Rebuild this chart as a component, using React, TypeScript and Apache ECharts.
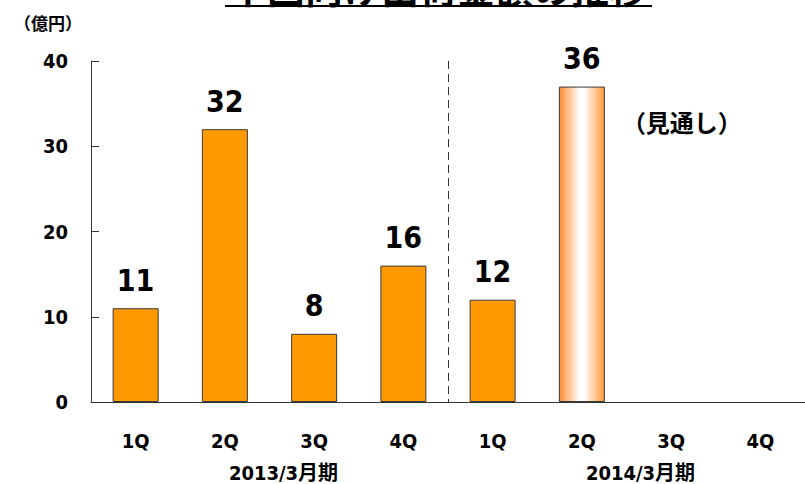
import React, { useEffect, useRef } from "react";
import * as echarts from "echarts";

const quarters = ["1Q", "2Q", "3Q", "4Q", "1Q", "2Q", "3Q", "4Q"];
const periods = ["2013/3月期", "2014/3月期"];
const barValues: (number | null)[] = [11, 32, 8, 16, 12, 37, null, null];
const barLabels = ["11", "32", "8", "16", "12", "36", "", ""];
const forecastIndex = 5;
const yTicks = [0, 10, 20, 30, 40];
const titleText = "中国向け出荷金額の推移";
const unitText = "（億円）";
const forecastText = "（見通し）";

const NUM_FONT = '"DejaVu Sans Condensed", "Liberation Sans Narrow", "Noto Sans CJK JP", sans-serif';
const CJK_FONT = '"Noto Sans CJK JP", "Noto Sans", sans-serif';

export default function App() {
  const ref = useRef<HTMLDivElement>(null);
  useEffect(() => {
    if (!ref.current) return;
    const chart = echarts.init(ref.current, null, { renderer: "svg" });
    const gradient = new echarts.graphic.LinearGradient(0, 0, 1, 0, [
      { offset: 0, color: "#ff8a2e" },
      { offset: 0.45, color: "#ffffff" },
      { offset: 0.55, color: "#ffffff" },
      { offset: 1, color: "#ff9a3a" },
    ]);
    const data = barValues.map((v, i) => ({
      value: v,
      itemStyle: i === forecastIndex ? { color: gradient } : undefined,
      label: { formatter: barLabels[i] },
    }));
    chart.setOption({
      animation: false,
      grid: { left: 91, right: -10, top: 61, bottom: 82 },
      xAxis: [
        {
          type: "category",
          data: quarters,
          position: "bottom",
          axisLine: { lineStyle: { color: "#333", width: 1 } },
          axisTick: { show: false },
          axisLabel: {
            interval: 0,
            margin: 29,
            color: "#000",
            fontFamily: NUM_FONT,
            fontWeight: "bold",
            fontSize: 20,
          },
        },
        {
          type: "category",
          data: periods,
          position: "bottom",
          axisLine: { show: false },
          axisTick: { show: false },
          axisLabel: {
            interval: 0,
            margin: 61,
            color: "#000",
            fontFamily: NUM_FONT,
            fontWeight: "bold",
            fontSize: 20,
            padding: [0, 0, 0, 28],
          },
        },
      ],
      yAxis: {
        type: "value",
        min: yTicks[0],
        max: yTicks[yTicks.length - 1],
        interval: 10,
        splitLine: { show: false },
        axisLine: { show: true, lineStyle: { color: "#333", width: 1 } },
        axisTick: { show: true, inside: true, length: 8, lineStyle: { color: "#333" } },
        axisLabel: {
          margin: 23,
          color: "#000",
          fontFamily: NUM_FONT,
          fontWeight: "bold",
          fontSize: 20,
        },
      },
      series: [
        {
          type: "bar",
          xAxisIndex: 0,
          data,
          barWidth: 46,
          itemStyle: { color: "#ff9900", borderColor: "#3a3a3a", borderWidth: 1 },
          label: {
            show: true,
            position: "top",
            distance: 13,
            color: "#000",
            fontFamily: NUM_FONT,
            fontWeight: "bold",
            fontSize: 30,
          },
        },
      ],
    });

    const xa = chart.convertToPixel({ xAxisIndex: 0 }, 3) as number;
    const xb = chart.convertToPixel({ xAxisIndex: 0 }, 4) as number;
    const sepX = Math.round((xa + xb) / 2) + 0.5;
    const y0 = chart.convertToPixel({ yAxisIndex: 0 }, 0) as number;
    const yTop = chart.convertToPixel({ yAxisIndex: 0 }, 40) as number;
    const fx = chart.convertToPixel({ xAxisIndex: 0 }, forecastIndex) as number;

    chart.setOption({
      graphic: [
        {
          type: "line",
          shape: { x1: sepX, y1: yTop, x2: sepX, y2: y0 },
          style: { stroke: "#333", lineWidth: 1, lineDash: [8, 5] },
          silent: true,
        },
        {
          type: "text",
          x: 438,
          y: 5,
          style: {
            text: titleText,
            fill: "#000",
            font: `bold 38px ${CJK_FONT}`,
            textAlign: "center",
            textVerticalAlign: "bottom",
          },
        },
        {
          type: "line",
          shape: { x1: 225, y1: 6, x2: 652, y2: 6 },
          style: { stroke: "#000", lineWidth: 2 },
        },
        {
          type: "text",
          x: 14,
          y: 22,
          style: {
            text: unitText,
            fill: "#000",
            font: `bold 17px ${CJK_FONT}`,
            textAlign: "left",
            textVerticalAlign: "middle",
          },
        },
        {
          type: "text",
          x: fx + 40,
          y: 121,
          style: {
            text: forecastText,
            fill: "#000",
            font: `bold 24px ${CJK_FONT}`,
            textAlign: "left",
            textVerticalAlign: "middle",
          },
        },
      ],
    });

    return () => chart.dispose();
  }, []);
  return (
    <div
      ref={ref}
      style={{ position: "absolute", left: 0, top: 0, width: 805, height: 484, background: "#fff" }}
    />
  );
}
